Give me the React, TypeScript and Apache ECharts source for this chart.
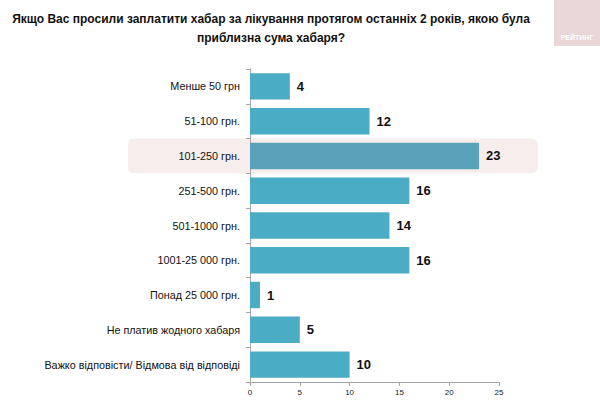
import React, { useEffect, useRef } from "react";
import * as echarts from "echarts";

const titleText =
  "Якщо Вас просили заплатити хабар за лікування протягом останніх 2 років, якою була\nприблизна сума хабаря?";

const categories = [
  "Менше 50 грн",
  "51-100 грн.",
  "101-250 грн.",
  "251-500 грн.",
  "501-1000 грн.",
  "1001-25 000 грн.",
  "Понад 25 000 грн.",
  "Не платив жодного хабаря",
  "Важко відповісти/ Відмова від відповіді",
];

const values = [4, 12, 23, 16, 14, 16, 1, 5, 10];

const highlightIndex = 2;

const xTicks = [0, 5, 10, 15, 20, 25];

const FONT = "'Liberation Sans', Arial, sans-serif";

export default function App() {
  const ref = useRef<HTMLDivElement>(null);

  useEffect(() => {
    if (!ref.current) return;
    document.body.style.margin = "0";
    const chart = echarts.init(ref.current, null, { renderer: "svg" });

    const cats = [...categories].reverse();
    const vals = [...values].reverse();
    const hiRev = categories.length - 1 - highlightIndex;

    chart.setOption({
      animation: false,
      backgroundColor: "#ffffff",
      title: {
        text: titleText,
        left: 266,
        top: 4,
        textAlign: "center",
        textStyle: {
          fontFamily: FONT,
          fontSize: 12,
          fontWeight: "bold",
          color: "#111",
          lineHeight: 19,
        },
      },
      grid: { left: 250, right: 101, top: 69, bottom: 21, containLabel: false },
      xAxis: {
        type: "value",
        min: xTicks[0],
        max: xTicks[xTicks.length - 1],
        interval: 5,
        splitLine: { show: false },
        axisLine: { show: true, lineStyle: { color: "#a6a6a6" } },
        axisTick: { show: true, length: 4, lineStyle: { color: "#a6a6a6" } },
        axisLabel: { fontFamily: FONT, fontSize: 8, color: "#222", margin: 6 },
      },
      yAxis: {
        type: "category",
        data: cats,
        axisLine: { show: true, lineStyle: { color: "#a6a6a6" } },
        axisTick: { show: true, length: 4, lineStyle: { color: "#a6a6a6" } },
        axisLabel: { fontFamily: FONT, fontSize: 10.8, color: "#111", margin: 10 },
      },
      series: [
        {
          type: "bar",
          data: vals.map((v, i) => ({
            value: v,
            itemStyle: { color: i === hiRev ? "#5aa2b9" : "#4bacc6" },
          })),
          barCategoryGap: "24%",
          label: {
            show: true,
            position: "right",
            distance: 7,
            fontFamily: FONT,
            fontSize: 13,
            fontWeight: "bold",
            color: "#111",
          },
          z: 3,
        },
      ],
    });

    // Highlight band behind the selected category row, plus the brand badge
    const yTop = chart.convertToPixel({ yAxisIndex: 0 }, hiRev) as number;
    const step =
      (chart.convertToPixel({ yAxisIndex: 0 }, 0) as number) -
      (chart.convertToPixel({ yAxisIndex: 0 }, 1) as number);
    const xEnd = chart.convertToPixel({ xAxisIndex: 0 }, 25) as number;

    chart.setOption({
      graphic: [
        {
          type: "rect",
          z: -1,
          silent: true,
          shape: { x: 128, y: yTop - step / 2, width: xEnd + 39 - 128, height: step, r: 6 },
          style: { fill: "#f8eded" },
        },
        {
          type: "rect",
          silent: true,
          shape: { x: 554, y: 0, width: 46, height: 46 },
          style: { fill: "#e9d6d8" },
        },
        {
          type: "text",
          silent: true,
          x: 577,
          y: 37,
          style: {
            text: "РЕЙТИНГ",
            fill: "#ffffff",
            font: "bold 7px 'Liberation Sans', Arial, sans-serif",
            textAlign: "center",
            textVerticalAlign: "middle",
          },
        },
      ],
    });

    return () => chart.dispose();
  }, []);

  return <div ref={ref} style={{ width: 600, height: 403 }} />;
}
